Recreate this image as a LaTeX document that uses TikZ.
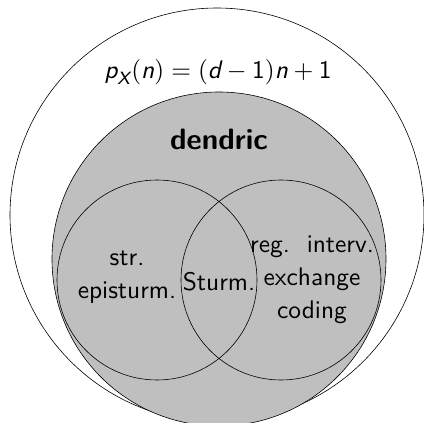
\documentclass[tikz,border=0pt]{standalone}
\usepackage{amsmath}
\begin{document}
\begin{tikzpicture}[
        x=1bp, y=1bp,
        outline/.style={draw=black, line width=0.6pt},
        classfill/.style={fill=gray!50},
        classtext/.style={font=\sffamily, align=center, inner sep=0.5pt, scale=2.55},
        titletext/.style={classtext, font=\fontsize{11.6}{14}\selectfont\sffamily\bfseries}]
        \useasboundingbox (0,0) rectangle (424,423);

        % Outer class given by the complexity function.
        \draw[outline] (217,208) circle (207);

        % Dendric class, shaded.
        \draw[outline, classfill] (219,164) circle (167);

        % Two overlapping subclasses.
        \draw[outline] (157,143) circle (100);
        \draw[outline] (281,143) circle (100);

        % Labels.
        \node[classtext] (cplx) at (218,351)
                {$\textsl{p}_{\textsl{X}}\mathsf{(}\textsl{n}\mathsf{)}=\mathsf{(}\textsl{d}-\mathsf{1}\mathsf{)}\textsl{n}+\mathsf{1}$};
        \node[titletext] (dendric) at (219,284) {dendric};
        \node[classtext] (epi) at (127,146) {str.\\[1pt]episturm.};
        \node[classtext] (sturm) at (219,141) {Sturm.};
        \node[classtext] (iet) at (312,143) {reg.\ \ interv.\\[1pt]exchange\\[1pt]coding};
\end{tikzpicture}
\end{document}
